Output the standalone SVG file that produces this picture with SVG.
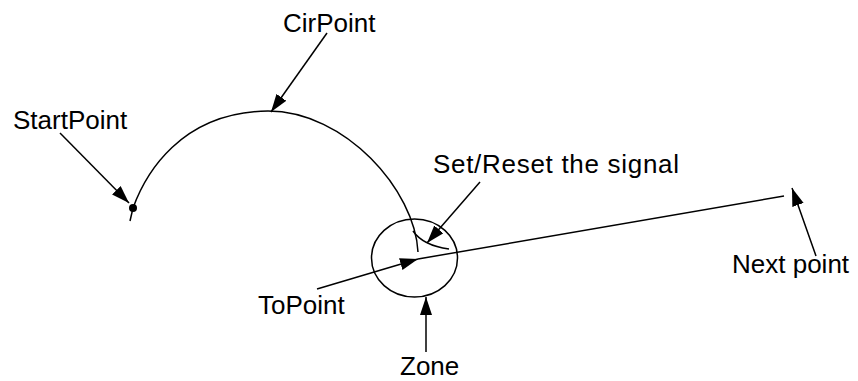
<svg xmlns="http://www.w3.org/2000/svg" width="858" height="381" viewBox="0 0 858 381">
<style>
text{font-family:"Liberation Sans",Arial,sans-serif;font-size:26px;fill:#000}
.ln{fill:none;stroke:#000;stroke-width:1.5}
.ar{fill:none;stroke:#000;stroke-width:1.5;marker-end:url(#ah)}
</style>
<defs>
<marker id="ah" markerUnits="userSpaceOnUse" markerWidth="19" markerHeight="13" refX="18" refY="6" orient="auto">
<path d="M0,0 L18,6 L0,12 Z" fill="#000"/>
</marker>
</defs>
<rect width="858" height="381" fill="#fff"/>
<g id="path">
<path class="ln" d="M130,221 L133,208 C145,175 180,112 268,111 C345,111 415,190 418,252"/>
<path class="ln" d="M413,231 Q423,245.5 449,249"/>
<circle cx="133" cy="208" r="4" fill="#000"/>
<ellipse class="ln" cx="414.5" cy="258" rx="43" ry="39"/>
<path class="ln" d="M418,259 L784,196"/>
</g>
<g id="connectors">
<line class="ar" x1="60" y1="133" x2="129" y2="203"/>
<line class="ar" x1="327" y1="33" x2="271" y2="112"/>
<line class="ar" x1="480" y1="182" x2="427" y2="243"/>
<line class="ar" x1="317" y1="289" x2="418" y2="259"/>
<line class="ar" x1="426" y1="352" x2="426" y2="297"/>
<line class="ar" x1="816" y1="256" x2="792" y2="188"/>
</g>
<g id="labels">
<text x="13" y="129">StartPoint</text>
<text x="283" y="32">CirPoint</text>
<text x="433" y="173" textLength="246">Set/Reset the signal</text>
<text x="258" y="314">ToPoint</text>
<text x="732" y="273">Next point</text>
<text x="400" y="375">Zone</text>
</g>
</svg>
